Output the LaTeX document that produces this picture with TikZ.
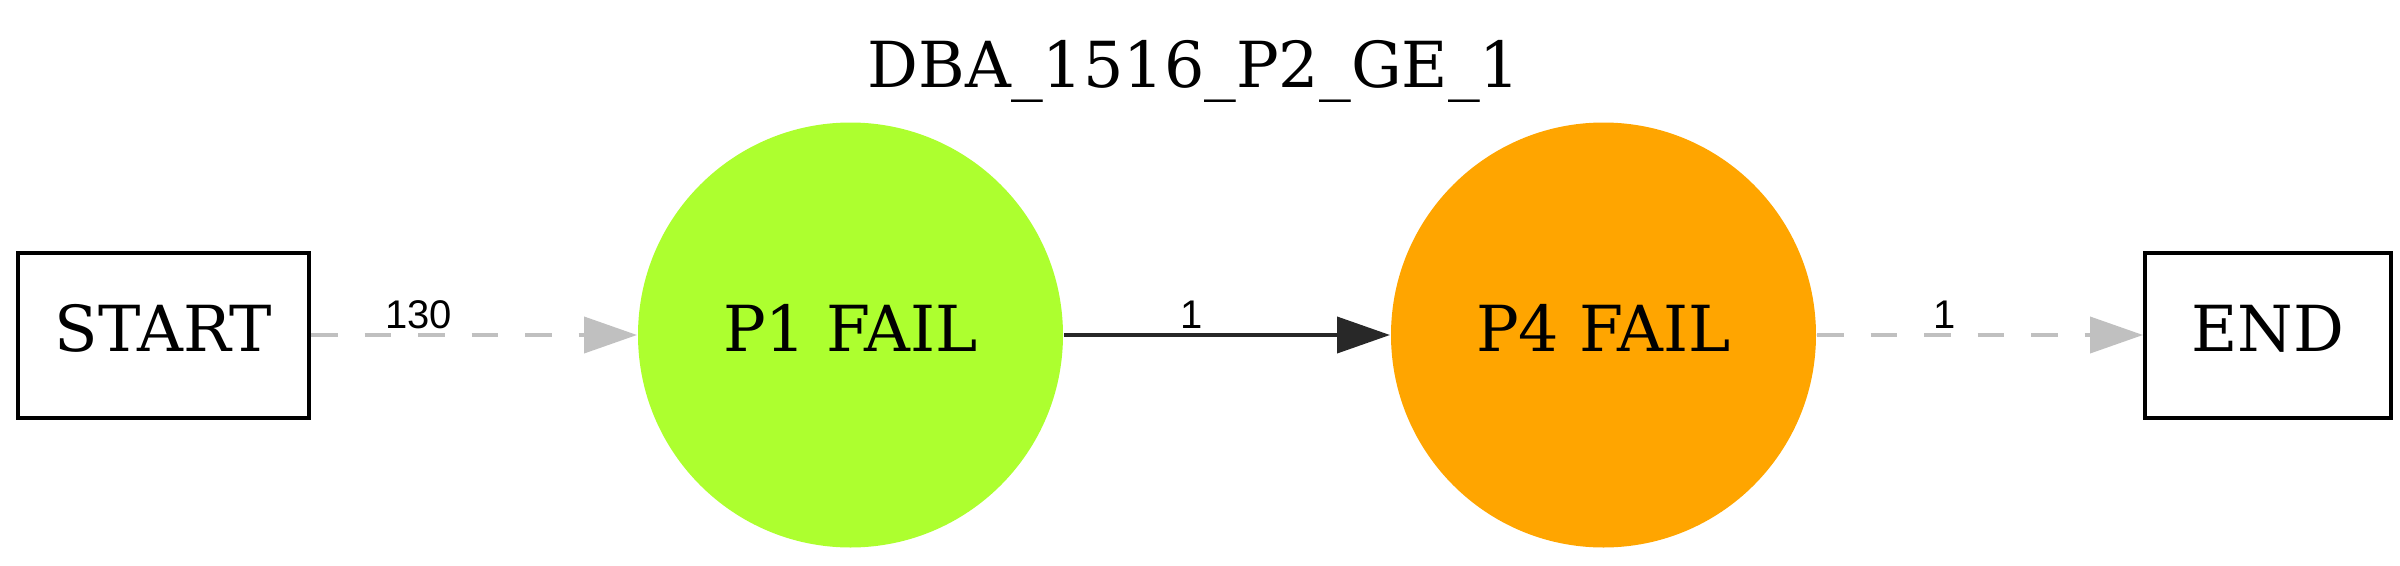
\documentclass[tikz,border=0pt]{standalone}
\usepackage{fontspec}
\setmainfont{DejaVu Serif}
\newfontfamily\lblfont{Liberation Sans}
\usetikzlibrary{arrows.meta,positioning}
\definecolor{fillgreen}{HTML}{ADFF2F}
\definecolor{fillorange}{HTML}{FFA500}
\definecolor{edgegray}{HTML}{C0C0C0}
\definecolor{edgedark}{HTML}{282828}

\begin{document}
\begin{tikzpicture}[font=\fontsize{12.7}{15}\selectfont,node distance=65.2pt,
  >={Triangle[length=10.6pt,width=7.2pt]},
  b/.style={draw,line width=0.8pt,minimum height=33pt,inner sep=0pt,text depth=2.8pt},
  s/.style={circle,minimum size=85pt,inner sep=0pt,text depth=2.8pt},
  e/.style={->,line width=0.8pt},
  g/.style={e,edgegray,dash pattern=on 5.3pt off 5.4pt},
  l/.style={font=\lblfont\fontsize{8}{9}\selectfont,anchor=base,yshift=1.4pt,inner sep=0pt,text=black}]
  \useasboundingbox (0,0) rectangle (480pt,113pt);
  % title
  \node[anchor=base](ttl) at (238.8pt,95.6pt){DBA\_1516\_P2\_GE\_1};
  % states
  \node[b,minimum width=58.2pt](start) at (32.7pt,46pt){START};
  \node[s,fill=fillgreen,right=of start](p1){P1 FAIL};
  \node[s,fill=fillorange,right=of p1](p4){P4 FAIL};
  \node[b,minimum width=49.2pt,right=of p4](done){END};
  % transitions
  \draw[g](start)--(p1) node[l,pos=0.33]{130};
  \draw[e,edgedark](p1)--(p4) node[l,pos=0.39]{1};
  \draw[g](p4)--(done) node[l,pos=0.39]{1};
\end{tikzpicture}
\end{document}
